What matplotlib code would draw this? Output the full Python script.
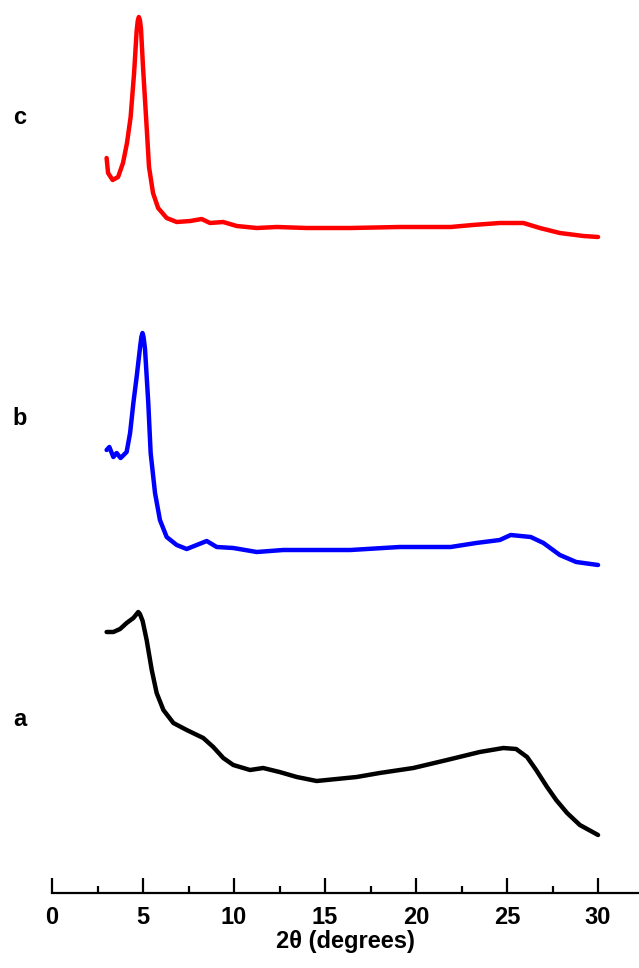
import matplotlib
matplotlib.use("Agg")
import matplotlib.pyplot as plt
from matplotlib.ticker import MultipleLocator

plt.rcParams['font.family'] = ['Liberation Sans', 'DejaVu Sans']
plt.rcParams['font.weight'] = 'bold'

# curve a (black), intensities in arbitrary units, already offset
a_x = [3.0, 3.37, 3.74, 4.1, 4.47, 4.65, 4.74, 4.83, 4.98, 5.2, 5.48, 5.75, 6.12, 6.67, 7.4,
       8.31, 8.86, 9.41, 9.96, 10.88, 11.6, 12.5, 13.45, 14.54, 15.64, 16.74, 18.0, 19.85,
       21.7, 23.5, 24.8, 25.5, 26.1, 26.6, 27.2, 27.7, 28.3, 29.0, 30.0]
a_y = [261, 261, 264, 270, 275, 279, 281, 279, 272, 253, 223, 200, 183, 170, 163,
       155, 146, 135, 128, 123, 125, 121, 116, 112, 114, 116, 120, 125,
       133, 141, 145, 144, 136, 123, 106, 93, 80, 68, 58]

# curve b (blue)
b_x = [3.0, 3.15, 3.37, 3.55, 3.77, 4.1, 4.29, 4.47, 4.65, 4.84, 4.91, 4.97, 5.03, 5.11,
       5.29, 5.42, 5.66, 5.93, 6.3, 6.85, 7.4, 7.95, 8.5, 9.05, 9.96, 11.25, 12.7, 14.0,
       16.4, 19.1, 21.9, 23.3, 24.6, 25.2, 26.3, 27.0, 27.9, 28.8, 30.0]
b_y = [443, 446, 436, 440, 435, 441, 460, 490, 516, 546, 556, 560, 556, 544,
       490, 440, 400, 373, 356, 348, 344, 348, 352, 346, 345, 341, 343, 343,
       343, 346, 346, 350, 353, 358, 356, 350, 338, 331, 328]

# curve c (red)
c_x = [3.0, 3.08, 3.33, 3.63, 3.9, 4.12, 4.32, 4.51, 4.65, 4.71, 4.77, 4.83, 4.89, 5.0,
       5.2, 5.33, 5.55, 5.83, 6.3, 6.85, 7.6, 8.22, 8.68, 9.4, 10.15, 11.25, 12.35, 14.0,
       16.4, 19.1, 21.9, 23.1, 24.6, 25.9, 26.8, 27.9, 29.2, 30.0]
c_y = [735, 720, 713, 716, 730, 750, 776, 820, 862, 872, 876, 873, 864, 826,
       766, 726, 700, 685, 675, 671, 672, 674, 670, 671, 667, 665, 666, 665,
       665, 666, 666, 668, 670, 670, 665, 660, 657, 656]

labels = ['a', 'b', 'c']
label_y = [720, 418, 118]  # pixel rows from top

fig = plt.figure(figsize=(6.39, 9.68), dpi=100)
ax = fig.add_axes([52 / 639, 1 - 893 / 968, 1 - 52 / 639, 893 / 968])

style = dict(lw=3.2, solid_joinstyle='round', solid_capstyle='round')
ax.plot(a_x, a_y, color='black', **style)
ax.plot(b_x, b_y, color='#0000ff', **style)
ax.plot(c_x, c_y, color='#ff0000', **style)

ax.set_xlim(0, 32.25)
ax.set_ylim(0, 893)
for s in ['top', 'right', 'left']:
    ax.spines[s].set_visible(False)
ax.spines['bottom'].set_linewidth(1.6)
ax.set_yticks([])
ax.xaxis.set_major_locator(MultipleLocator(5))
ax.xaxis.set_minor_locator(MultipleLocator(2.5))
ax.tick_params(axis='x', which='major', direction='in', length=11, width=1.6,
               labelsize=17, pad=9)
ax.tick_params(axis='x', which='minor', direction='in', length=5, width=1.6)
ax.set_xlabel('2θ (degrees)', fontsize=17, fontweight='bold', labelpad=1)

for lab, py in zip(labels, label_y):
    fig.text(20 / 639, 1 - py / 968, lab, fontsize=17, fontweight='bold',
             ha='center', va='center')

fig.savefig('out.png', dpi=100)
